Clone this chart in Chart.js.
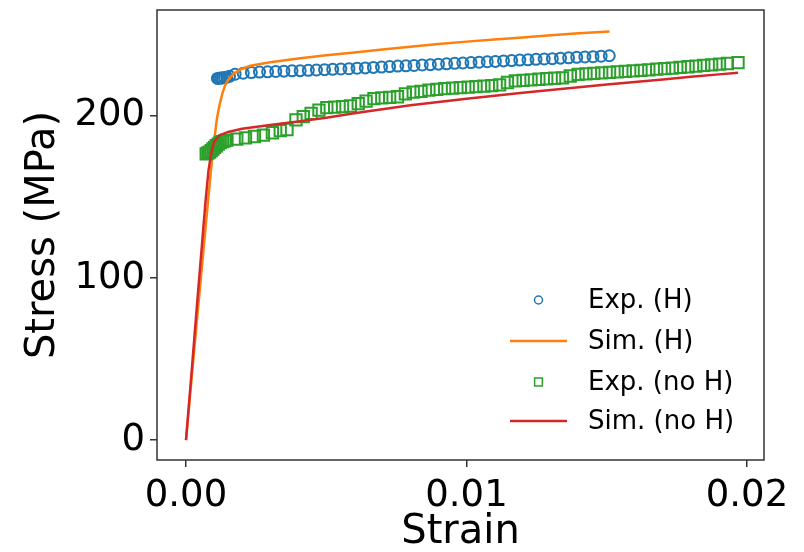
<!DOCTYPE html>
<html>
<head>
<meta charset="utf-8">
<script src="https://cdn.jsdelivr.net/npm/chart.js@4/dist/chart.umd.min.js"></script>
<style>
  html, body { margin: 0; padding: 0; background: #fff; }
  #wrap { width: 804px; height: 552px; }
</style>
</head>
<body>
<div id="wrap"><canvas id="chart" width="804" height="552"></canvas></div>
<script>
// series labels
const seriesNames = ['Exp. (H)', 'Sim. (H)', 'Exp. (no H)', 'Sim. (no H)'];

// Exp. (H) - circles
const expHStrain = [0.00112, 0.00118, 0.00124, 0.00130, 0.00137, 0.00145, 0.00155,
    0.00175, 0.00204, 0.00233, 0.00262, 0.00291, 0.00320, 0.00349, 0.00378, 0.00407, 0.00436,
    0.00465, 0.00494, 0.00523, 0.00552, 0.00581, 0.00610, 0.00639, 0.00668, 0.00697, 0.00726,
    0.00755, 0.00784, 0.00813, 0.00842, 0.00871, 0.00900, 0.00929, 0.00958, 0.00987, 0.01016,
    0.01045, 0.01074, 0.01103, 0.01132, 0.01161, 0.01190, 0.01219, 0.01248, 0.01277, 0.01306,
    0.01335, 0.01364, 0.01393, 0.01422, 0.01451, 0.01480, 0.01509];
const expHStress = [223.0, 223.1, 223.2, 223.3, 223.5, 223.8, 224.3,
    225.6, 226.2, 226.6, 226.9, 227.1, 227.3, 227.5, 227.7, 227.8, 228.0,
    228.2, 228.4, 228.6, 228.8, 229.0, 229.3, 229.5, 229.8, 230.0, 230.3,
    230.6, 230.8, 231.0, 231.3, 231.5, 231.8, 232.0, 232.3, 232.5, 232.8,
    233.0, 233.3, 233.5, 233.8, 234.0, 234.3, 234.5, 234.8, 235.0, 235.2,
    235.5, 235.7, 236.0, 236.2, 236.4, 236.7, 237.0];

// Sim. (H) - orange line
const simHStrain = [0, 0.0002, 0.0004, 0.0006, 0.0008, 0.0009, 0.0010, 0.0011, 0.0012, 0.0013,
    0.0014, 0.0015, 0.0017, 0.0020, 0.0023, 0.0030, 0.0040, 0.0050, 0.0060, 0.0070, 0.0080,
    0.0090, 0.0100, 0.0110, 0.0120, 0.0130, 0.0140, 0.0151];
const simHStress = [0, 38, 76, 113, 150, 168, 184, 198, 207, 214,
    219, 222, 226, 229, 230.8, 233, 235.3, 237.3, 239, 240.8, 242.5,
    244.2, 245.7, 247, 248.3, 249.6, 250.8, 252];

// Exp. (no H) - squares
const expNoHStrain = [0.00072, 0.00078, 0.00084, 0.00090, 0.00096, 0.00102, 0.00108, 0.00115,
    0.00122, 0.00130, 0.00138, 0.00146,
    0.00181, 0.00212, 0.00244, 0.00276, 0.00308, 0.00336, 0.00360, 0.00392, 0.00418, 0.00446,
    0.00474, 0.00502, 0.00530, 0.00558, 0.00586, 0.00614, 0.00642, 0.00670, 0.00698, 0.00726,
    0.00754, 0.00782, 0.00810, 0.00838, 0.00866, 0.00894, 0.00922, 0.00950, 0.00978, 0.01006,
    0.01034, 0.01062, 0.01090, 0.01118, 0.01146, 0.01174, 0.01202, 0.01230, 0.01258, 0.01286,
    0.01314, 0.01342, 0.01370, 0.01398, 0.01426, 0.01454, 0.01482, 0.01510, 0.01538, 0.01566,
    0.01594, 0.01622, 0.01650, 0.01678, 0.01706, 0.01734, 0.01762, 0.01790, 0.01818, 0.01846,
    0.01874, 0.01902, 0.01930, 0.01968];
const expNoHStress = [176.5, 177, 177.5, 178.5, 179.5, 180.5, 181.5, 182.5,
    183.5, 184, 184.5, 185,
    185.6, 186.3, 187.2, 188.0, 189.5, 190.8, 191.5, 197.5, 199.5, 201.5,
    203.5, 205, 205.3, 205.6, 206, 207.5, 209, 210.5, 211, 211.3,
    211.7, 213.5, 214.5, 215, 215.8, 216.3, 216.7, 217, 217.3, 217.6,
    218, 218.3, 218.6, 219, 220.5, 221.5, 221.8, 222.1, 222.5, 222.8,
    223.1, 223.4, 224.5, 225.5, 225.8, 226.1, 226.4, 226.7, 227, 227.3,
    227.7, 228, 228.3, 228.7, 229, 229.4, 229.8, 230.2, 230.6, 231,
    231.4, 231.8, 232.2, 232.8];

// Sim. (no H) - red line
const simNoHStrain = [0, 0.0002, 0.0004, 0.0006, 0.0007, 0.0008, 0.0009, 0.0010, 0.0012, 0.0015,
    0.0020, 0.0030, 0.0040, 0.0050, 0.0060, 0.0070, 0.0080, 0.0090, 0.0100, 0.0110, 0.0120,
    0.0130, 0.0140, 0.0150, 0.0160, 0.0170, 0.0180, 0.0190, 0.01968];
const simNoHStress = [0, 42, 85, 127, 148, 166, 177, 184, 188, 190,
    192, 194.3, 196.5, 198.8, 201.5, 204, 206.5, 208.5, 210.5, 212.3, 214.1,
    215.8, 217.5, 219.2, 220.8, 222.4, 224, 225.5, 226.5];

// axis ticks
const xTicks = [0, 0.01, 0.02];
const yTicks = [0, 100, 200];

const FONT = "'DejaVu Sans', sans-serif";

function pts(xs, ys) {
    return xs.map((x, i) => ({ x: x, y: ys[i] }));
}

// frame round the plot area (matplotlib spines)
const framePlugin = {
    id: 'frame',
    afterDraw(chart) {
        const a = chart.chartArea;
        const ctx = chart.ctx;
        ctx.save();
        ctx.strokeStyle = '#333';
        ctx.lineWidth = 1.5;
        ctx.strokeRect(a.left, a.top, a.right - a.left, a.bottom - a.top);
        ctx.restore();
    }
};

// legend inside the axes, no frame
const legendPlugin = {
    id: 'innerLegend',
    afterDraw(chart) {
        const ctx = chart.ctx;
        const textX = 588;
        const handleX0 = 510, handleX1 = 567;
        const rowY = [300, 341, 382, 421];
        ctx.save();
        ctx.font = '26px ' + FONT;
        ctx.textBaseline = 'middle';
        chart.data.datasets.forEach((ds, i) => {
            const y = rowY[i];
            if (ds.showLine) {
                ctx.strokeStyle = ds.borderColor;
                ctx.lineWidth = ds.borderWidth;
                ctx.beginPath();
                ctx.moveTo(handleX0, y);
                ctx.lineTo(handleX1, y);
                ctx.stroke();
            } else {
                ctx.fillStyle = 'rgba(0,0,0,0)';
                ctx.strokeStyle = ds.borderColor;
                ctx.lineWidth = 1.5;
                Chart.helpers.drawPoint(ctx, {
                    pointStyle: ds.pointStyle,
                    radius: ds.pointStyle === 'rect' ? 5.5 : 4,
                    borderWidth: 1.5,
                    rotation: 0
                }, (handleX0 + handleX1) / 2, y);
            }
            ctx.fillStyle = '#000';
            ctx.fillText(ds.label, textX, y + 1);
        });
        ctx.restore();
    }
};

new Chart(document.getElementById('chart'), {
    type: 'scatter',
    data: {
        datasets: [{
            label: seriesNames[0],
            data: pts(expHStrain, expHStress),
            showLine: false,
            pointStyle: 'circle',
            pointRadius: 5.5,
            borderColor: '#1f77b4',
            backgroundColor: 'rgba(0,0,0,0)',
            pointBorderWidth: 2,
            order: 4
        }, {
            label: seriesNames[1],
            data: pts(simHStrain, simHStress),
            showLine: true,
            pointRadius: 0,
            borderColor: '#ff7f0e',
            borderWidth: 2.5,
            order: 3
        }, {
            label: seriesNames[2],
            data: pts(expNoHStrain, expNoHStress),
            showLine: false,
            pointStyle: 'rect',
            pointRadius: 8,
            borderColor: '#2ca02c',
            backgroundColor: 'rgba(0,0,0,0)',
            pointBorderWidth: 2,
            order: 2
        }, {
            label: seriesNames[3],
            data: pts(simNoHStrain, simNoHStress),
            showLine: true,
            pointRadius: 0,
            borderColor: '#d62728',
            borderWidth: 2.5,
            order: 1
        }]
    },
    options: {
        responsive: false,
        animation: false,
        events: [],
        layout: { padding: { top: 9, right: 40, left: 0, bottom: 0 } },
        plugins: {
            legend: { display: false },
            tooltip: { enabled: false }
        },
        scales: {
            x: {
                type: 'linear',
                min: -0.001034,
                max: 0.020606,
                afterFit(scale) {
                    scale.height = 92;
                    scale.paddingLeft = 0;
                    scale.paddingRight = 0;
                },
                afterBuildTicks(scale) { scale.ticks = xTicks.map(v => ({ value: v })); },
                ticks: {
                    color: '#000',
                    font: { family: FONT, size: 37 },
                    padding: 7,
                    maxRotation: 0,
                    callback: v => v.toFixed(2)
                },
                grid: { drawOnChartArea: false, drawTicks: true, tickLength: 7, color: '#333', lineWidth: 1.5 },
                border: { display: false },
                title: {
                    display: true,
                    text: 'Strain',
                    color: '#000',
                    font: { family: FONT, size: 40 },
                    padding: { top: 0, bottom: -5 }
                }
            },
            y: {
                type: 'linear',
                min: -12.3,
                max: 265.2,
                afterFit(scale) {
                    scale.width = 157;
                    scale.paddingTop = 0;
                    scale.paddingBottom = 0;
                },
                afterBuildTicks(scale) { scale.ticks = yTicks.map(v => ({ value: v })); },
                ticks: {
                    color: '#000',
                    font: { family: FONT, size: 37 },
                    padding: 5,
                    callback: v => String(v)
                },
                grid: { drawOnChartArea: false, drawTicks: true, tickLength: 7, color: '#333', lineWidth: 1.5 },
                border: { display: false },
                title: {
                    display: true,
                    text: 'Stress (MPa)',
                    color: '#000',
                    font: { family: FONT, size: 40 },
                    padding: { top: 20, bottom: 0 }
                }
            }
        }
    },
    plugins: [framePlugin, legendPlugin]
});
</script>
</body>
</html>
